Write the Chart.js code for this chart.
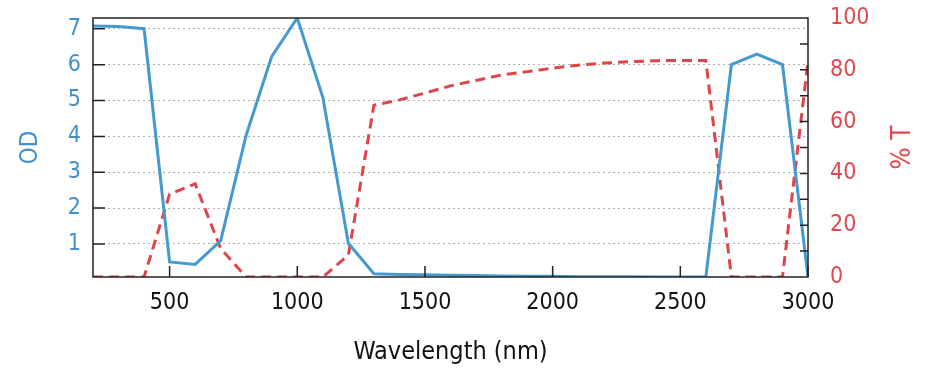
<!DOCTYPE html>
<html>
<head>
<meta charset="utf-8">
<script src="https://cdn.jsdelivr.net/npm/chart.js@4/dist/chart.umd.min.js"></script>
<style>
  html, body { margin: 0; padding: 0; background: #ffffff; }
  #wrap { width: 930px; height: 382px; position: relative; }
</style>
</head>
<body>
<div id="wrap"><canvas id="c" width="930" height="382"></canvas></div>
<script>
// ---- data ----
const wavelengths = [200, 300, 400, 500, 600, 700, 800, 900, 1000, 1100, 1200, 1300, 1400, 1500, 1600, 1700, 1800, 1900, 2000, 2100, 2200, 2300, 2400, 2500, 2600, 2700, 2800, 2900, 3000];
const odValues    = [7.08, 7.06, 7.0, 0.5, 0.43, 1.09, 4.04, 6.23, 7.3, 5.09, 1.02, 0.17, 0.15, 0.14, 0.13, 0.12, 0.11, 0.10, 0.10, 0.09, 0.09, 0.09, 0.08, 0.08, 0.08, 6.0, 6.29, 6.0, 0.08];
const transValues = [0, 0, 0, 32, 36, 11, 0, 0, 0, 0, 8.4, 66.3, 68.4, 71, 73.8, 75.9, 78, 79.3, 80.6, 81.8, 82.6, 83.1, 83.5, 83.6, 83.6, 0, 0, 0, 83.3];
const xTicks = [500, 1000, 1500, 2000, 2500, 3000];
const odTicks = [1, 2, 3, 4, 5, 6, 7];
const tTicks = [0, 20, 40, 60, 80, 100];
const tMinorTicks = [10, 20, 30, 40, 50, 60, 70, 80, 90];
const xTitle = 'Wavelength (nm)';
const odTitle = 'OD';
const tTitle = '% T';

const BLUE = '#4499cf';
const BLUE_TXT = '#4291cc';
const RED = '#dd454b';
const RED_TXT = '#e0484f';
const FONT = "'DejaVu Sans Condensed', 'DejaVu Sans', sans-serif";

const framePlugin = {
  id: 'frame',
  afterDatasetsDraw(chart) {
    const ctx = chart.ctx;
    const a = chart.chartArea;
    const x = chart.scales.x, yl = chart.scales.yOD, yr = chart.scales.yT;
    ctx.save();
    ctx.strokeStyle = '#222';
    ctx.lineWidth = 1.5;
    ctx.beginPath();
    odTicks.forEach(v => { const p = yl.getPixelForValue(v); ctx.moveTo(a.left, p); ctx.lineTo(a.left + 12, p); });
    xTicks.forEach(v => { const p = x.getPixelForValue(v); ctx.moveTo(p, a.bottom); ctx.lineTo(p, a.bottom - 11); });
    tMinorTicks.forEach(v => { const p = yr.getPixelForValue(v); ctx.moveTo(a.right, p); ctx.lineTo(a.right - 8, p); });
    ctx.stroke();
    ctx.strokeRect(a.left, a.top, a.right - a.left, a.bottom - a.top);
    ctx.restore();
  },
  afterDraw(chart) {
    const ctx = chart.ctx;
    const a = chart.chartArea;
    ctx.save();
    ctx.font = "26px " + FONT;
    ctx.fillStyle = RED_TXT;
    ctx.textAlign = 'center';
    ctx.textBaseline = 'middle';
    ctx.translate(903, (a.top + a.bottom) / 2);
    ctx.rotate(-Math.PI / 2);
    ctx.fillText(tTitle, 0, 0);
    ctx.restore();
  }
};

const plain = v => String(v);
const noPadY = s => { s.paddingTop = 0; s.paddingBottom = 0; };

new Chart(document.getElementById('c'), {
  type: 'line',
  data: {
    datasets: [
      {
        label: odTitle,
        data: wavelengths.map((w, i) => ({ x: w, y: odValues[i] })),
        yAxisID: 'yOD',
        borderColor: BLUE,
        borderWidth: 3,
        pointRadius: 0,
        tension: 0,
        fill: false
      },
      {
        label: tTitle,
        data: wavelengths.map((w, i) => ({ x: w, y: transValues[i] })),
        yAxisID: 'yT',
        borderColor: RED,
        borderWidth: 3,
        borderDash: [10, 6],
        pointRadius: 0,
        tension: 0,
        fill: false
      }
    ]
  },
  options: {
    responsive: false,
    animation: false,
    layout: { padding: { top: 18, left: 0, right: 0, bottom: 0 } },
    plugins: { legend: { display: false }, tooltip: { enabled: false } },
    scales: {
      x: {
        type: 'linear',
        position: 'bottom',
        min: 200,
        max: 3000,
        afterBuildTicks: s => { s.ticks = xTicks.map(v => ({ value: v })); },
        afterFit: s => { s.height = 105; s.paddingLeft = 0; s.paddingRight = 0; },
        grid: { display: false, drawTicks: false },
        border: { display: false },
        ticks: { color: '#111', font: { family: FONT, size: 23 }, padding: 12, maxRotation: 0, autoSkip: false, callback: plain },
        title: { display: true, text: xTitle, color: '#111', font: { family: FONT, size: 25 }, padding: { top: 0, bottom: 15 } }
      },
      yOD: {
        type: 'linear',
        position: 'left',
        min: 0.08,
        max: 7.3,
        afterBuildTicks: s => { s.ticks = odTicks.map(v => ({ value: v })); },
        afterFit: s => { s.width = 93; noPadY(s); },
        grid: { display: true, drawTicks: false, color: '#b0b0b0', lineWidth: 1 },
        border: { display: false, dash: [2, 3] },
        ticks: { color: BLUE_TXT, font: { family: FONT, size: 23 }, padding: 12, autoSkip: false, callback: plain },
        title: { display: true, text: odTitle, color: BLUE_TXT, font: { family: FONT, size: 24 }, padding: { top: 16, bottom: 0 } }
      },
      yT: {
        type: 'linear',
        position: 'right',
        min: 0,
        max: 100,
        afterBuildTicks: s => { s.ticks = tTicks.map(v => ({ value: v })); },
        afterFit: s => { s.width = 122; noPadY(s); },
        grid: { display: false, drawTicks: false },
        border: { display: false },
        ticks: { color: RED_TXT, font: { family: FONT, size: 23 }, padding: 22, autoSkip: false, callback: plain },
        title: { display: false }
      }
    }
  },
  plugins: [framePlugin]
});
</script>
</body>
</html>
